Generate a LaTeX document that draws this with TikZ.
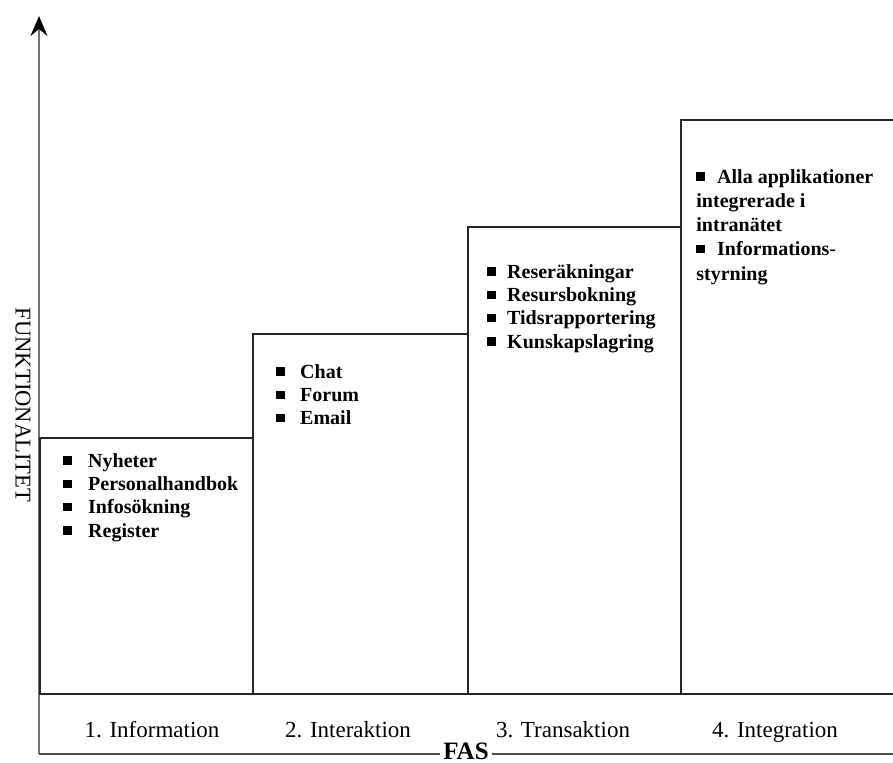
\documentclass[tikz,border=0pt]{standalone}
\usepackage{fontspec}
\setmainfont{Liberation Serif}
\usetikzlibrary{arrows.meta}
\newcommand{\blt}{\rule[0.12em]{4.4pt}{4.2pt}}

\tikzset{
  box/.style={draw=black!85,line width=1pt},
  items/.style={anchor=north west,inner sep=0pt,align=left,font=\bfseries\fontsize{10}{11.65}\selectfont},
  phase/.style={anchor=base,font=\fontsize{11.5}{13}\selectfont}
}

\begin{document}
\begin{tikzpicture}[x=0.5pt,y=-0.5pt]
\useasboundingbox (0,0) rectangle (893,762);

% axes
\draw[black!55,line width=1pt,-{Stealth[length=10pt,width=8.5pt,inset=3.5pt,black]}] (39,754) -- (39,16);
\draw[black!70,line width=1pt] (39,754) -- (893,754);
\node[rotate=-90,font=\fontsize{11.3}{13}\selectfont] (funk) at (23,405) {FUNKTIONALITET};
\node[fill=white,inner xsep=1.5pt,inner ysep=0pt,anchor=base,font=\bfseries\fontsize{12.5}{14}\selectfont] (fas) at (466,759) {FAS};

% steps
\draw[box] (40,694) rectangle (253,438);
\draw[box] (253,694) rectangle (468,334);
\draw[box] (468,694) rectangle (681,227);
\draw[box] (893,120) -- (681,120) -- (681,694);
\draw[box] (40,694) -- (893,694);

% contents of each step
\node[items] (info) at (63,453) {\blt\hspace{8pt}Nyheter\\ \blt\hspace{8pt}Personalhandbok\\ \blt\hspace{8pt}Infosökning\\ \blt\hspace{8pt}Register};
\node[items] (inter) at (276,364) {\blt\hspace{7.5pt}Chat\\ \blt\hspace{7.5pt}Forum\\ \blt\hspace{7.5pt}Email};
\node[items] (trans) at (487,264) {\blt\hspace{5.5pt}Reseräkningar\\ \blt\hspace{5.5pt}Resursbokning\\ \blt\hspace{5.5pt}Tidsrapportering\\ \blt\hspace{5.5pt}Kunskapslagring};
\node[items,font=\bfseries\fontsize{10}{12.1}\selectfont] (integ) at (696,169) {\blt\hspace{6pt}Alla applikationer\\ integrerade i\\ intranätet\\ \blt\hspace{6pt}Informations-\\ styrning};

% phases
\node[phase] (p1) at (152,737) {1. Information};
\node[phase] (p2) at (348,737) {2. Interaktion};
\node[phase] (p3) at (563,737) {3. Transaktion};
\node[phase] (p4) at (775,737) {4. Integration};
\end{tikzpicture}
\end{document}
